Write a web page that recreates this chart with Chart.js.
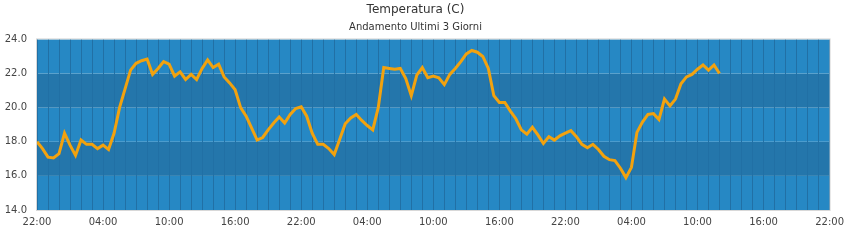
<!DOCTYPE html>
<html>
<head>
<meta charset="utf-8">
<script src="https://cdn.jsdelivr.net/npm/chart.js@4"></script>
<style>
  html, body { margin: 0; padding: 0; background: #fff; }
  #wrap { width: 850px; height: 240px; }
</style>
</head>
<body>
<div id="wrap"><canvas id="tempChart"></canvas></div>
<script>
// hour labels shown on the x axis (every 6 hours, 72 hours span)
const tickLabels = ['22:00', '04:00', '10:00', '16:00', '22:00', '04:00', '10:00',
                    '16:00', '22:00', '04:00', '10:00', '16:00', '22:00'];
const slotsPerTick = 12; // half-hour readings between two labels

// temperature readings every 30 minutes, starting 22:00
const temperature = [
    18.0, 17.6, 17.1, 17.05, 17.3, 18.5, 17.8, 17.2, 18.1, 17.85,
    17.85, 17.6, 17.8, 17.55, 18.5, 20.0, 21.1, 22.2, 22.6, 22.75,
    22.85, 21.95, 22.3, 22.7, 22.55, 21.85, 22.1, 21.65, 21.95, 21.65,
    22.3, 22.8, 22.35, 22.55, 21.8, 21.45, 21.05, 20.0, 19.5, 18.8,
    18.1, 18.25, 18.7, 19.1, 19.45, 19.1, 19.6, 19.95, 20.05, 19.5,
    18.5, 17.85, 17.85, 17.6, 17.25, 18.15, 19.05, 19.4, 19.6, 19.25,
    18.95, 18.7, 20.0, 22.35, 22.3, 22.25, 22.3, 21.7, 20.7, 21.9,
    22.35, 21.75, 21.85, 21.75, 21.35, 21.95, 22.3, 22.7, 23.15, 23.35,
    23.25, 23.0, 22.3, 20.7, 20.3, 20.3, 19.8, 19.35, 18.7, 18.45,
    18.85, 18.4, 17.9, 18.3, 18.1, 18.35, 18.5, 18.65, 18.3, 17.85,
    17.65, 17.85, 17.55, 17.15, 16.95, 16.9, 16.45, 15.9, 16.5, 18.55,
    19.15, 19.6, 19.65, 19.3, 20.5, 20.1, 20.5, 21.4, 21.8, 21.95,
    22.25, 22.5, 22.2, 22.5, 22.0
];

const yMin = 14, yMax = 24, yStep = 2;

// one category per half hour, labelled only on the 6-hour marks
const slots = [];
for (let i = 0; i <= (tickLabels.length - 1) * slotsPerTick; i++) {
    slots.push(i % slotsPerTick === 0 ? tickLabels[i / slotsPerTick] : '');
}

const bandColors = ['#2688c4', '#2476ab'];

// alternating plot bands + light frame round the plot area
const plotBands = {
    id: 'plotBands',
    beforeDraw(chart) {
        const { ctx, chartArea: a, scales: { y } } = chart;
        const ticks = y.ticks;
        ctx.save();
        for (let i = 0; i < ticks.length - 1; i++) {
            const top = y.getPixelForValue(ticks[i + 1].value);
            const bottom = y.getPixelForValue(ticks[i].value);
            ctx.fillStyle = bandColors[i % 2];
            ctx.fillRect(a.left, top, a.right - a.left, bottom - top);
        }
        ctx.restore();
    },
    afterDraw(chart) {
        const { ctx, chartArea: a } = chart;
        ctx.save();
        ctx.strokeStyle = '#d8d8d8';
        ctx.lineWidth = 1;
        ctx.strokeRect(a.left - 0.5, a.top - 0.5, a.right - a.left + 1, a.bottom - a.top + 1);
        ctx.restore();
    }
};

const ctx = document.getElementById('tempChart').getContext('2d');
const tempChart = new Chart(ctx, {
    type: 'line',
    data: {
        labels: slots,
        datasets: [{
            label: 'Temperatura',
            data: temperature,
            borderColor: '#f2a20e',
            borderWidth: 3,
            pointRadius: 0,
            tension: 0,
            fill: false
        }]
    },
    options: {
        responsive: true,
        maintainAspectRatio: false,
        animation: false,
        layout: { padding: { left: 0, right: 19, top: 0, bottom: 0 } },
        plugins: {
            legend: { display: false },
            tooltip: { enabled: false },
            title: {
                display: true,
                text: 'Temperatura (C)',
                color: '#333',
                font: { family: 'DejaVu Sans', size: 12, weight: 'normal' },
                padding: { top: 3, bottom: 4 }
            },
            subtitle: {
                display: true,
                text: 'Andamento Ultimi 3 Giorni',
                color: '#333',
                font: { family: 'DejaVu Sans', size: 10, weight: 'normal' },
                padding: { top: 0, bottom: 6 }
            }
        },
        scales: {
            x: {
                type: 'category',
                offset: false,
                afterFit(scale) { scale.height = 30; },
                grid: {
                    drawTicks: false,
                    offset: false,
                    color: c => (c.index % 2 === 0 ? '#2170a5' : 'rgba(0,0,0,0)'),
                    lineWidth: 1
                },
                border: { display: false },
                ticks: {
                    autoSkip: false,
                    maxRotation: 0,
                    padding: 6,
                    color: '#444',
                    font: { family: 'DejaVu Sans', size: 10 }
                }
            },
            y: {
                min: yMin,
                max: yMax,
                afterFit(scale) { scale.width = 37; },
                grid: { display: false, drawTicks: false },
                border: { display: false },
                ticks: {
                    stepSize: yStep,
                    padding: 10,
                    color: '#444',
                    font: { family: 'DejaVu Sans', size: 10 },
                    callback: v => Number(v).toFixed(1)
                }
            }
        }
    },
    plugins: [plotBands]
});
</script>
</body>
</html>
